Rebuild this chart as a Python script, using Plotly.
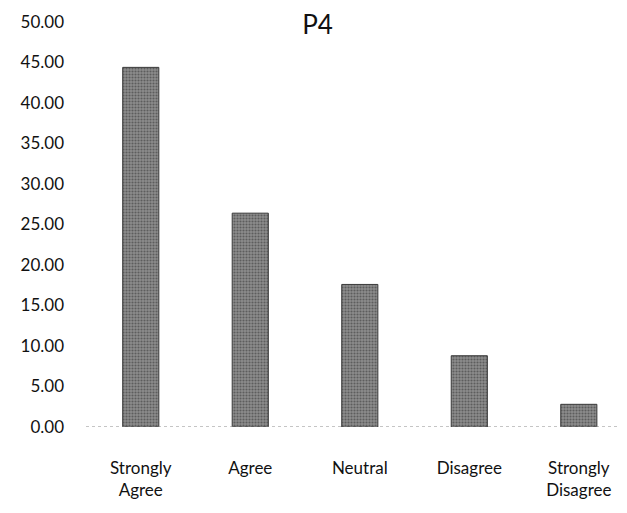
import plotly.graph_objects as go

categories = ["Strongly<br>Agree", "Agree", "Neutral", "Disagree", "Strongly<br>Disagree"]
values = [44.4, 26.4, 17.6, 8.8, 2.8]
tick_vals = [0, 5, 10, 15, 20, 25, 30, 35, 40, 45, 50]
tick_text = ["%.2f" % v for v in tick_vals]

font_family = "Lato, Open Sans, sans-serif"
W, H = 619, 505

fig = go.Figure(go.Bar(
    x=list(range(len(categories))),
    y=values,
    width=0.33,
    marker=dict(color="#7a7a7a", line=dict(color="#3a3a3a", width=1),
                pattern=dict(shape=".", fgcolor="#2e2e2e", bgcolor="#8c8c8c", size=3, solidity=0.4)),
))

fig.add_shape(type="line", xref="paper", yref="y", x0=0, x1=1, y0=0, y1=0,
              line=dict(color="#8a8a8a", width=1, dash="dot"))

fig.update_layout(
    width=W, height=H,
    paper_bgcolor="white", plot_bgcolor="white",
    margin=dict(l=78, r=0, t=14, b=86),
    showlegend=False,
    title=dict(text="P4", x=0.5, xanchor="center", y=1 - 17/H, yanchor="middle",
               yref="container", font=dict(family=font_family, size=26, color="#111")),
    font=dict(family=font_family, size=17, color="#111"),
    xaxis=dict(range=[-0.5, 4.44], tickmode="array", tickvals=list(range(len(categories))),
               ticktext=categories, showgrid=False, zeroline=False, showline=False,
               ticks="", ticklabelstandoff=29, tickfont=dict(size=17), automargin=False),
    yaxis=dict(range=[0, 50], tickmode="array", tickvals=tick_vals, ticktext=tick_text,
               showgrid=False, zeroline=False, showline=False, ticks="",
               ticklabelstandoff=21, tickfont=dict(size=17), automargin=False),
)

fig.write_html("out.html")
